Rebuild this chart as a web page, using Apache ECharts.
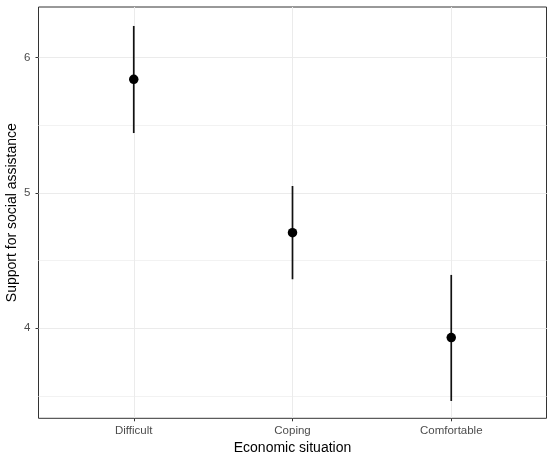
<!DOCTYPE html>
<html>
<head>
<meta charset="utf-8">
<script src="https://cdn.jsdelivr.net/npm/echarts@6/dist/echarts.min.js"></script>
<style>
html, body { margin: 0; padding: 0; background: #fff; }
#chart { width: 554px; height: 462px; }
</style>
</head>
<body>
<div id="chart"></div>
<script>
// data
var categories = ['Difficult', 'Coping', 'Comfortable'];
var means = [5.839, 4.706, 3.931];
var lower = [5.442, 4.362, 3.463];
var upper = [6.233, 5.051, 4.394];
var yTicks = [4, 5, 6];
var yGrid = [3.5, 4, 4.5, 5, 5.5, 6];

var xPos = categories.map(function (c, i) { return i + 1; });
var pointData = xPos.map(function (x, i) { return [x, means[i]]; });
var barData = xPos.map(function (x, i) { return [x, lower[i], upper[i]]; });

var font = '"Liberation Sans", Arial, sans-serif';
var yMin = 3.335, yMax = 6.373;

var chart = echarts.init(document.getElementById('chart'));
var option = {
	animation: false,
	grid: {
		left: 38.5, top: 7, right: 7.5, bottom: 43.7,
		outerBoundsMode: 'none', containLabel: false,
		show: true, borderColor: '#333', borderWidth: 1
	},
	xAxis: [{
		type: 'value', min: 0.4, max: 3.6,
		name: 'Economic situation', nameLocation: 'middle', nameGap: 23, nameMoveOverlap: false,
		nameTextStyle: { fontFamily: font, fontSize: 14, color: '#000' },
		axisLine: { show: false },
		axisTick: { show: true, length: 3, customValues: xPos, lineStyle: { color: '#333' } },
		axisLabel: {
			customValues: xPos, margin: 7, fontFamily: font, fontSize: 11.5, color: '#4d4d4d',
			formatter: function (v) { return categories[Math.round(v) - 1] || ''; }
		},
		splitLine: { show: true, lineStyle: { color: '#ebebeb', width: 1 } }
	}],
	yAxis: [{
		// minor grid lines
		type: 'value', min: yMin, max: yMax,
		axisLine: { show: false },
		axisTick: { show: false, customValues: yGrid },
		axisLabel: { show: false, customValues: yGrid },
		splitLine: { show: true, lineStyle: { color: '#f2f2f2', width: 1 } }
	}, {
		type: 'value', min: yMin, max: yMax, position: 'left',
		name: 'Support for social assistance', nameLocation: 'middle', nameGap: 19, nameMoveOverlap: false,
		nameTextStyle: { fontFamily: font, fontSize: 14, color: '#000' },
		axisLine: { show: false },
		axisTick: { show: true, length: 3, customValues: yTicks, lineStyle: { color: '#333' } },
		axisLabel: { customValues: yTicks, margin: 8, fontFamily: font, fontSize: 11.5, color: '#4d4d4d' },
		splitLine: { show: true, lineStyle: { color: '#ebebeb', width: 1.2 } }
	}],
	series: [{
		type: 'custom',
		yAxisIndex: 1,
		data: barData,
		renderItem: function (params, api) {
			var a = api.coord([api.value(0), api.value(1)]);
			var b = api.coord([api.value(0), api.value(2)]);
			return {
				type: 'line',
				shape: { x1: a[0], y1: a[1], x2: b[0], y2: b[1] },
				style: { stroke: '#111', lineWidth: 1.7 }
			};
		},
		z: 2
	}, {
		type: 'scatter',
		yAxisIndex: 1,
		data: pointData,
		symbol: 'circle',
		symbolSize: 9.5,
		itemStyle: { color: '#000', opacity: 1 },
		z: 3
	}]
};
chart.setOption(option);
</script>
</body>
</html>
